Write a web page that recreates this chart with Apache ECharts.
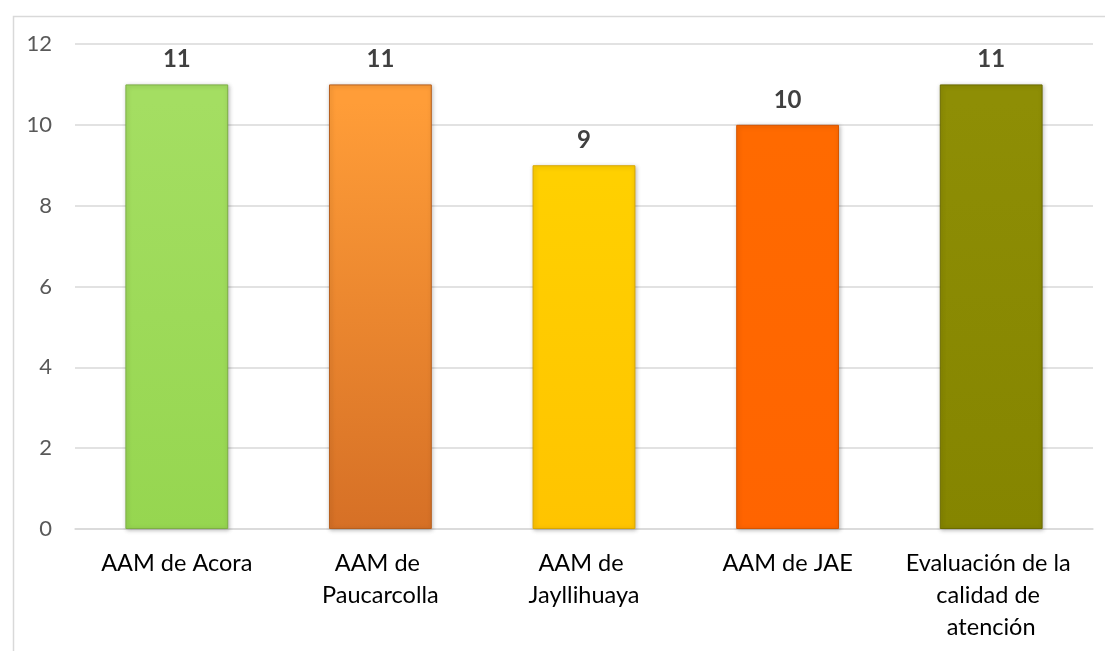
<!DOCTYPE html>
<html>
<head>
<meta charset="utf-8">
<script src="https://cdn.jsdelivr.net/npm/echarts@6/dist/echarts.min.js"></script>
<style>
html,body{margin:0;padding:0;background:#fff;}
#chart{width:1105px;height:651px;}
</style>
</head>
<body>
<div id="chart"></div>
<script>
const categories = ["AAM de Acora", "AAM de Paucarcolla", "AAM de Jayllihuaya", "AAM de JAE", "Evaluación de la calidad de atención"];
const values = [11, 11, 9, 10, 11];
const barTopColors = ["#A4DE62", "#FF9D38", "#FFD000", "#FF6A00", "#8E8E05"];
const barBottomColors = ["#96D650", "#D67026", "#FFC400", "#FF6400", "#858500"];
const barBorderColors = ["#7EAF45", "#B65F1E", "#D9A600", "#D65500", "#6B6B00"];
const yTicks = [0, 2, 4, 6, 8, 10, 12];

const chart = echarts.init(document.getElementById('chart'), null, {renderer: 'canvas'});
const font = 'Lato, "Open Sans", sans-serif';
chart.setOption({
  animation: false,
  backgroundColor: '#ffffff',
  graphic: [{
    type: 'rect', left: 11, top: 14, z: -10,
    shape: {width: 1200, height: 700},
    style: {fill: 'none', stroke: '#d9d9d9', lineWidth: 1.5}
  }],
  grid: {left: 75, right: 12, top: 44, bottom: 122, containLabel: false},
  xAxis: {
    type: 'category',
    data: categories,
    axisLine: {show: true, lineStyle: {color: '#d9d9d9', width: 1.5}},
    axisTick: {show: false},
    axisLabel: {
      color: '#000000', fontFamily: font, fontSize: 23.5, lineHeight: 32,
      margin: 18, interval: 0, width: 194, overflow: 'break'
    }
  },
  yAxis: {
    type: 'value', min: yTicks[0], max: yTicks[yTicks.length - 1], interval: 2,
    axisLine: {show: false}, axisTick: {show: false},
    splitLine: {lineStyle: {color: '#d9d9d9', width: 1.5}},
    axisLabel: {color: '#595959', fontFamily: font, fontSize: 22, margin: 23}
  },
  series: [{
    type: 'bar',
    barWidth: '50.5%',
    data: values.map((v, i) => ({
      value: v,
      itemStyle: {
        color: new echarts.graphic.LinearGradient(0, 0, 0, 1, [
          {offset: 0, color: barTopColors[i]},
          {offset: 0.04, color: barTopColors[i]},
          {offset: 1, color: barBottomColors[i]}
        ]),
        borderColor: barBorderColors[i],
        borderWidth: 1,
        shadowColor: 'rgba(0,0,0,0.25)',
        shadowBlur: 4,
        shadowOffsetX: 1,
        shadowOffsetY: 1
      }
    })),
    label: {
      show: true, position: 'top', distance: 13,
      color: '#404040', fontFamily: font, fontWeight: 'bold', fontSize: 24
    }
  }]
});
</script>
</body>
</html>
